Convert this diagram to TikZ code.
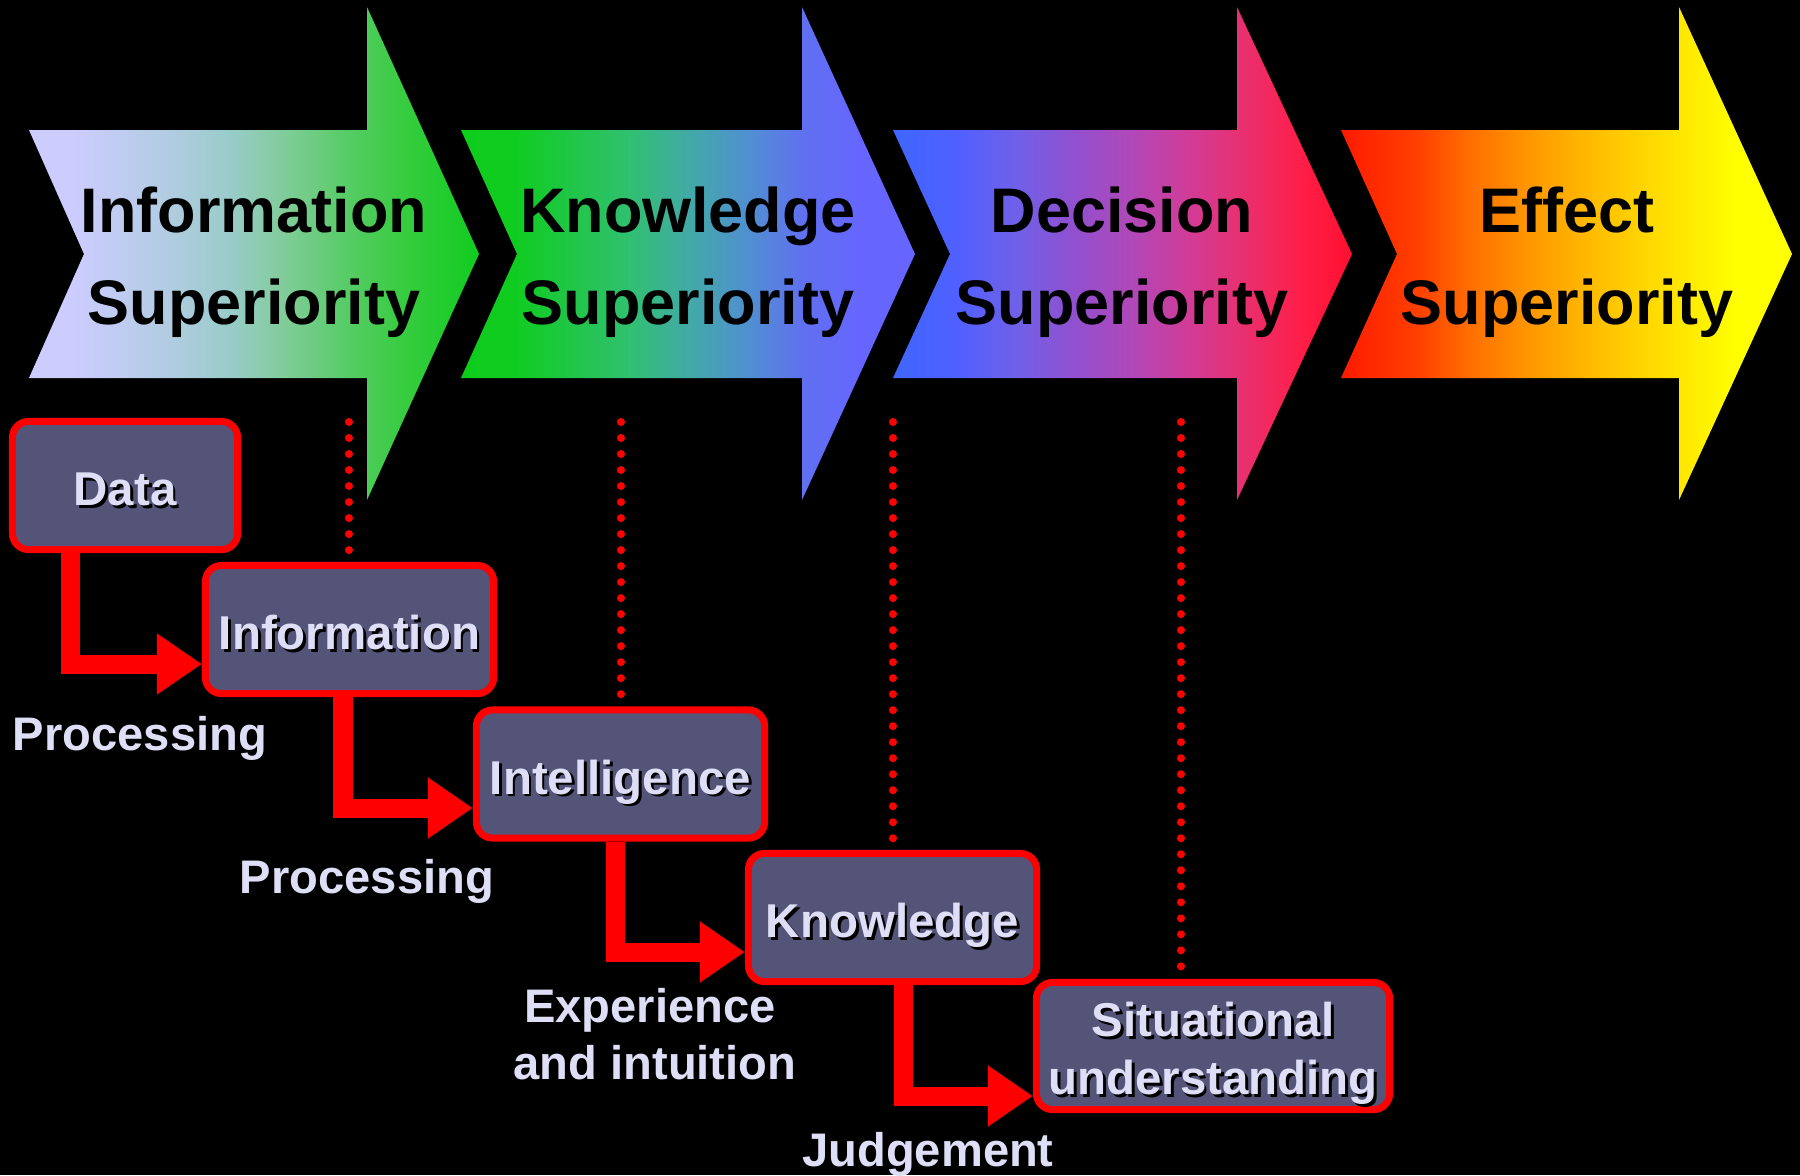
\documentclass[tikz,border=0pt]{standalone}
\usepackage{fontspec}
\setmainfont{Liberation Sans}
\usetikzlibrary{arrows.meta}
\definecolor{boxfill}{HTML}{545479}
\definecolor{lav}{HTML}{DEDEF6}
% arrow 1 stops
\definecolor{sAa}{HTML}{CCCCFF}
\definecolor{sAb}{HTML}{CCCCFF}
\definecolor{sAc}{HTML}{B0CCE0}
\definecolor{sAd}{HTML}{98CCC8}
\definecolor{sAe}{HTML}{80CC98}
\definecolor{sAf}{HTML}{58CC68}
\definecolor{sAg}{HTML}{38CC40}
\definecolor{sAh}{HTML}{10CC20}
% arrow 2 stops
\definecolor{sBa}{HTML}{0ECC1C}
\definecolor{sBb}{HTML}{10CC20}
\definecolor{sBc}{HTML}{30C070}
\definecolor{sBd}{HTML}{42AAA6}
\definecolor{sBe}{HTML}{5090D0}
\definecolor{sBf}{HTML}{6070F0}
\definecolor{sBg}{HTML}{6666FF}
% arrow 3 stops
\definecolor{sCa}{HTML}{3F66FF}
\definecolor{sCb}{HTML}{5060FF}
\definecolor{sCc}{HTML}{7060E8}
\definecolor{sCd}{HTML}{9050D0}
\definecolor{sCe}{HTML}{B048B8}
\definecolor{sCf}{HTML}{D03C98}
\definecolor{sCg}{HTML}{E83070}
\definecolor{sCh}{HTML}{FF1E48}
\definecolor{sCi}{HTML}{FF1030}
% arrow 4 stops
\definecolor{sDa}{HTML}{FF1A00}
\definecolor{sDb}{HTML}{FF4000}
\definecolor{sDc}{HTML}{FF7000}
\definecolor{sDd}{HTML}{FF9800}
\definecolor{sDe}{HTML}{FFBA00}
\definecolor{sDf}{HTML}{FFD800}
\definecolor{sDg}{HTML}{FFF000}
\definecolor{sDh}{HTML}{FFFF00}
\pgfdeclarehorizontalshading{shA}{100bp}{color(0bp)=(sAa); color(25bp)=(sAa); color(30bp)=(sAb);
  color(41bp)=(sAc); color(47.5bp)=(sAd); color(53.5bp)=(sAe); color(60bp)=(sAf);
  color(66.5bp)=(sAg); color(75bp)=(sAh); color(100bp)=(sAh)}
\pgfdeclarehorizontalshading{shB}{100bp}{color(0bp)=(sBa); color(25bp)=(sBa); color(31bp)=(sBb);
  color(43.5bp)=(sBc); color(50bp)=(sBd); color(56.5bp)=(sBe); color(62.75bp)=(sBf);
  color(69bp)=(sBg); color(75bp)=(sBg); color(100bp)=(sBg)}
\pgfdeclarehorizontalshading{shC}{100bp}{color(0bp)=(sCa); color(25bp)=(sCa); color(32bp)=(sCb);
  color(38.5bp)=(sCc); color(44.5bp)=(sCd); color(51bp)=(sCe); color(57bp)=(sCf);
  color(63bp)=(sCg); color(69.5bp)=(sCh); color(75bp)=(sCi); color(100bp)=(sCi)}
\pgfdeclarehorizontalshading{shD}{100bp}{color(0bp)=(sDa); color(25bp)=(sDa); color(33.5bp)=(sDb);
  color(39.5bp)=(sDc); color(46bp)=(sDd); color(52.5bp)=(sDe); color(59bp)=(sDf);
  color(65bp)=(sDg); color(69bp)=(sDh); color(75bp)=(sDh); color(100bp)=(sDh)}
\newcommand\ttlF{\fontsize{17.9pt}{25.9pt}\selectfont\bfseries}
\newcommand\boxF{\fontsize{13.5pt}{16.5pt}\selectfont\bfseries}
\newcommand\lblF{\fontsize{13.4pt}{16.3pt}\selectfont\bfseries}
\newcommand\shd[1]{\leavevmode\rlap{\kern0.06em\raisebox{-0.06em}{\textcolor{black}{#1}}}#1}
\tikzset{
  boxbase/.style={draw=red, line width=0.07cm, fill=boxfill, rounded corners=0.16cm,
    inner sep=0pt, text=lav, font=\boxF, minimum height=1.28cm},
  box/.style={boxbase, text height=0.40cm, text depth=0pt},
  conn/.style={draw=red, line width=0.19cm, -{Triangle[length=0.45cm,width=0.58cm]}},
  dots/.style={draw=red, line width=0.08cm, line cap=round, dash pattern=on 0pt off 0.16cm, shorten >=0.11cm},
  lbl/.style={text=lav, font=\lblF, anchor=base, inner sep=0pt},
  ttl/.style={text=black, font=\ttlF, anchor=base, inner sep=0pt},
}
\begin{document}
\begin{tikzpicture}[x=0.01cm,y=-0.01cm]
\fill[black] (0,0) rectangle (1800,1175);
\useasboundingbox (0,0) rectangle (1800,1175);

% big arrows
\shade[shading=shA]
  (29,130) -- (367,130) -- (367,7) -- (479,254) -- (367,500) -- (367,378) -- (29,378) -- (84,254) -- cycle;
\shade[shading=shB]
  (461,130) -- (802,130) -- (802,7) -- (915,254) -- (802,500) -- (802,378) -- (461,378) -- (517,254) -- cycle;
\shade[shading=shC]
  (893,130) -- (1237,130) -- (1237,7) -- (1352,254) -- (1237,500) -- (1237,378) -- (893,378) -- (950,254) -- cycle;
\shade[shading=shD]
  (1341,130) -- (1679,130) -- (1679,7) -- (1792,254) -- (1679,500) -- (1679,378) -- (1341,378) -- (1397,254) -- cycle;

\node[ttl] (t1a) at (254,232) {Information};
\node[ttl] (t1b) at (254,324) {Superiority};
\node[ttl] (t2a) at (688,232) {Knowledge};
\node[ttl] (t2b) at (688,324) {Superiority};
\node[ttl] (t3a) at (1122,232) {Decision};
\node[ttl] (t3b) at (1122,324) {Superiority};
\node[ttl] (t4a) at (1567,232) {Effect};
\node[ttl] (t4b) at (1567,324) {Superiority};

% boxes
\node[box, minimum width=2.25cm] (Data) at (125,485.5) {\shd{Data}};
\node[box, minimum width=2.88cm] (Information) at (349.5,629.5) {\shd{Information}};
\node[box, minimum width=2.88cm] (Intelligence) at (620.5,774) {\shd{Intelligence}};
\node[box, minimum width=2.88cm] (Knowledge) at (892.5,917.5) {\shd{Knowledge}};
\node[boxbase, minimum width=3.53cm, minimum height=1.27cm, align=center] (Situational) at (1213,1046)
  {\rule{0pt}{0.52cm}\shd{Situational}\\\shd{understanding}};

% dotted guides
\coordinate (d1) at (349,422);
\coordinate (d2) at (621,422);
\coordinate (d3) at (893,422);
\coordinate (d4) at (1181,422);
\draw[dots] (d1) -- (d1 |- Information.north);
\draw[dots] (d2) -- (d2 |- Intelligence.north);
\draw[dots] (d3) -- (d3 |- Knowledge.north);
\draw[dots] (d4) -- (d4 |- Situational.north);

% connectors
\draw[conn] ([xshift=-0.54cm]Data.south) |- ([yshift=-0.345cm]Information.west);
\draw[conn] ([xshift=-0.065cm]Information.south) |- ([yshift=-0.34cm]Intelligence.west);
\draw[conn] ([xshift=-0.05cm]Intelligence.south) |- ([yshift=-0.345cm]Knowledge.west);
\draw[conn] ([xshift=0.11cm]Knowledge.south) |- ([yshift=-0.5cm]Situational.west);

% labels
\node[lbl] (p1) at (140,750) {Processing};
\node[lbl] (p2) at (367,893) {Processing};
\node[lbl] (e1) at (650,1022) {Experience};
\node[lbl] (e2) at (655,1079) {and intuition};
\node[lbl] (j1) at (928,1166) {Judgement};
\end{tikzpicture}
\end{document}
